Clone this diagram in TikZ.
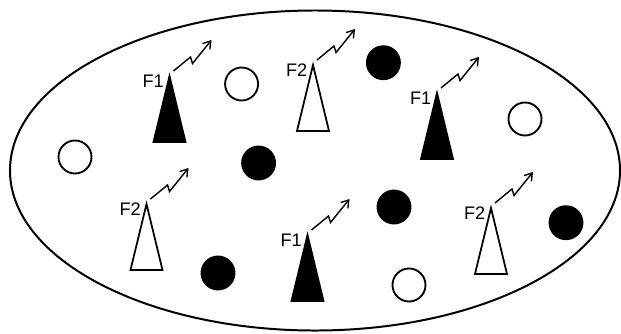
\documentclass[tikz,border=0pt]{standalone}
\usepackage{fontspec}
\setmainfont{Liberation Sans}
\usetikzlibrary{arrows.meta}

\begin{document}
\begin{tikzpicture}[x=0.03cm,y=-0.03cm,
  tower/.style={draw=black,line width=1.5pt,line join=miter},
  user/.style={circle,draw=black,line width=1.6pt,minimum size=0.99cm,inner sep=0pt},
  band/.style={anchor=east,inner sep=0pt,font=\fontsize{15.5}{18}\selectfont},
  radio/.style={line width=1.2pt,-{Straight Barb[length=6pt,width=8pt]}}]

\useasboundingbox (0,0) rectangle (621,333);

% Cell boundary
\draw[line width=1.7pt] (315,170.5) ellipse [x radius=9.15cm, y radius=4.8cm];

% --- Base stations (apex x, apex y, fill, band) ---
\foreach \x/\y/\c/\f [count=\n] in {169.5/76/black/F1, 313/65/white/F2, 437/93/black/F1,
    146.5/204/white/F2, 307.5/235/black/F1, 491/208/white/F2}{
  \coordinate (t\n) at (\x,\y);
  \draw[tower,fill=\c] (t\n) -- ++(16,66) -- ++(-32,0) -- cycle;
  \node[band] (f\n) at ([shift={(-5.5,5)}]t\n) {\f};
  \coordinate (s\n) at ([shift={(4,-5)}]t\n);
  \draw[radio] (s\n) -- ++(17,-14) -- ++(2,6.5) -- ++(19,-23.5);
}

% --- Users on F2 (open) ---
\node[user,fill=white] (u1) at (241.6,84) {};
\node[user,fill=white] (u2) at (525,119) {};
\node[user,fill=white] (u3) at (75,157) {};
\node[user,fill=white] (u4) at (409,285) {};

% --- Users on F1 (filled) ---
\node[user,fill=black] (v1) at (383.4,62.7) {};
\node[user,fill=black] (v2) at (258.6,163) {};
\node[user,fill=black] (v3) at (394,207) {};
\node[user,fill=black] (v4) at (566,222.7) {};
\node[user,fill=black] (v5) at (218,273) {};

\end{tikzpicture}
\end{document}
